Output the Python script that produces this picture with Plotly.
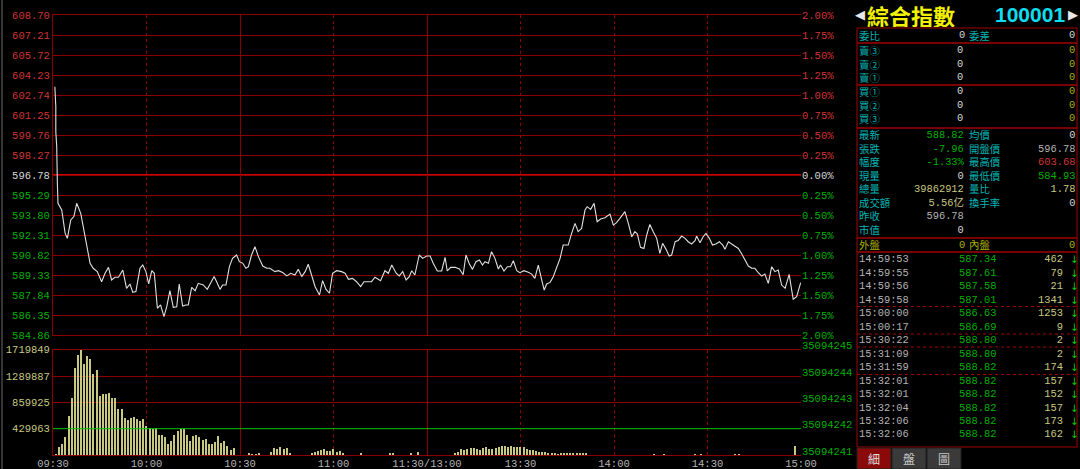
import plotly.graph_objects as go

W, H = 1080, 469

# ---------------- data ----------------
prev_close = 596.78
price_ticks = [608.70, 607.21, 605.72, 604.23, 602.74, 601.25, 599.76, 598.27, 596.78,
               595.29, 593.80, 592.31, 590.82, 589.33, 587.84, 586.35, 584.86]
pct_ticks = [2.00, 1.75, 1.50, 1.25, 1.00, 0.75, 0.50, 0.25, 0.00,
             -0.25, -0.50, -0.75, -1.00, -1.25, -1.50, -1.75, -2.00]
time_ticks = [0, 30, 60, 90, 120, 150, 180, 210, 240]
time_labels = ["09:30", "10:00", "10:30", "11:00", "11:30/13:00", "13:30", "14:00", "14:30", "15:00"]
solid_grid_times = [60, 120]
dashed_grid_times = [30, 90, 150, 180, 210, 240]

price_t = [0.6, 0.9, 0.9, 1.2, 1.4, 1.6, 2.8, 3.9, 4.6, 5.7, 6.7, 7.6, 8.9, 10.3, 11.9, 12.9, 14.2, 15.6,
           16.7, 17.8, 18.8, 19.9, 21.0, 22.4, 23.6, 24.7, 25.6, 26.6, 27.9, 28.8, 29.8, 30.7, 31.7, 32.5,
           33.5, 34.5, 35.6, 36.5, 37.5, 38.6, 39.7, 40.5, 41.6, 42.6, 43.4, 44.5, 45.6, 46.6, 48.2, 49.5,
           50.6, 51.7, 52.5, 53.6, 54.4, 55.5, 56.6, 57.6, 58.9, 59.8, 60.9, 61.9, 62.7, 63.7, 64.8, 65.9,
           67.3, 68.6, 69.6, 71.2, 72.3, 73.7, 75.0, 76.3, 77.6, 78.7, 79.8, 80.9, 81.9, 83.0, 84.1, 85.5,
           86.5, 87.6, 88.7, 89.7, 91.0, 92.6, 93.7, 94.8, 96.1, 97.4, 98.7, 99.8, 101.2, 102.2, 103.3,
           105.1, 106.5, 107.6, 108.7, 110.1, 111.1, 112.2, 113.3, 114.3, 115.1, 116.1, 117.5, 118.6,
           119.9, 121.0, 122.0, 123.3, 124.7, 125.8, 126.5, 127.6, 129.0, 130.4, 131.6, 132.5, 133.6,
           134.6, 135.7, 136.8, 137.8, 138.6, 139.7, 140.7, 141.8, 142.9, 143.6, 144.7, 145.8, 146.8,
           147.7, 148.8, 149.8, 151.1, 152.5, 153.6, 154.6, 155.7, 156.8, 157.6, 158.4, 159.5, 160.5,
           161.6, 162.7, 163.7, 165.3, 166.4, 167.5, 168.5, 169.6, 170.7, 171.4, 172.5, 173.6, 174.6,
           175.7, 177.1, 178.7, 179.8, 180.8, 181.9, 183.5, 184.6, 185.7, 186.7, 187.5, 188.5, 189.6,
           190.5, 191.5, 192.6, 193.7, 194.7, 195.6, 196.7, 197.7, 198.5, 199.6, 200.6, 201.7, 202.8,
           203.8, 204.9, 206.0, 206.5, 207.6, 208.6, 209.5, 210.6, 211.6, 212.7, 213.8, 214.9, 215.6,
           216.7, 217.7, 218.8, 219.9, 221.0, 222.0, 223.1, 224.2, 225.2, 226.3, 227.4, 228.4, 229.5,
           230.6, 231.6, 232.7, 233.8, 234.9, 236.2, 237.5, 238.6, 239.9]
price_v = [603.36, 601.87, 600.00, 598.89, 596.16, 594.67, 594.17, 592.43, 592.06, 593.43, 593.68, 594.67,
           593.92, 592.19, 590.20, 589.83, 589.58, 588.83, 589.46, 589.90, 588.96, 589.16, 589.16, 589.70,
           588.34, 588.66, 588.04, 588.09, 589.83, 590.08, 589.58, 588.66, 589.65, 589.46, 586.85, 587.10,
           586.23, 586.97, 588.16, 586.92, 586.97, 588.66, 587.02, 587.10, 587.10, 588.41, 588.16, 588.71,
           588.59, 588.26, 588.76, 589.21, 588.83, 588.26, 588.59, 588.59, 589.95, 590.57, 590.82, 590.32,
           590.20, 589.83, 589.95, 590.82, 591.44, 590.70, 590.00, 589.83, 589.83, 589.58, 589.65, 589.51,
           589.26, 589.46, 589.33, 589.75, 589.21, 589.58, 590.13, 589.21, 588.46, 587.84, 588.91, 588.26,
           587.97, 589.46, 589.65, 589.58, 589.46, 589.01, 589.08, 588.83, 588.46, 588.83, 588.83, 588.83,
           589.16, 588.91, 589.65, 589.46, 590.08, 589.46, 589.26, 589.58, 588.96, 589.21, 589.65, 589.33,
           590.82, 590.57, 590.75, 590.74, 590.20, 589.63, 589.63, 590.64, 589.63, 589.90, 589.90, 589.78,
           589.35, 590.82, 590.15, 589.75, 590.32, 590.45, 590.07, 590.32, 590.20, 591.07, 590.57, 589.78,
           590.07, 589.63, 589.95, 589.95, 590.40, 589.65, 589.50, 589.65, 589.53, 589.40, 589.08, 590.07,
           588.96, 588.21, 588.66, 588.78, 589.20, 589.83, 590.57, 591.56, 591.56, 592.43, 593.18, 592.56,
           592.80, 594.17, 594.42, 594.22, 594.67, 593.30, 593.50, 593.60, 593.87, 593.05, 593.23, 593.55,
           594.05, 593.18, 592.18, 592.56, 592.38, 591.39, 591.31, 592.31, 593.10, 592.56, 592.06, 590.94,
           591.69, 591.24, 590.74, 590.82, 591.81, 591.89, 592.23, 592.06, 591.81, 591.64, 591.89, 592.23,
           591.74, 592.18, 592.43, 592.06, 591.56, 591.64, 591.81, 591.56, 591.24, 591.81, 591.64, 591.49,
           591.31, 590.89, 590.45, 590.00, 589.83, 589.83, 589.50, 589.25, 589.40, 588.71, 589.95, 589.58,
           589.70, 588.58, 588.34, 589.38, 587.52, 587.71, 588.76]

vol_t = list(range(1, 59)) + [63, 64, 65, 66, 70, 71, 72, 73, 74, 75, 76,
                              83, 84, 85, 86, 87, 88, 89, 90, 91, 92, 93, 99, 108, 109, 115, 117] \
        + list(range(129, 172)) + [193, 196, 206, 208, 219, 220, 238]
vol_v = [22000, 136000, 180000, 294000, 648000, 942000, 1420000, 1644000, 1719849, 1486000,
         1616000, 1578000, 1328000, 1388000, 963000, 996000, 1007000, 1023000, 931000, 931000,
         762000, 762000, 610000, 571000, 615000, 631000, 599000, 555000, 599000, 479000,
         446000, 425000, 452000, 327000, 327000, 299000, 180000, 234000, 337000, 397000,
         435000, 435000, 327000, 234000, 310000, 327000, 294000, 245000, 261000, 190000,
         185000, 218000, 310000, 196000, 234000, 152000, 82000, 125000,
         30000, 27000, 27000, 30000, 54000, 120000, 98000, 136000, 109000, 125000, 44000,
         33000, 54000, 65000, 82000, 98000, 76000, 76000, 98000, 54000, 65000, 38000,
         33000, 44000, 33000, 33000, 49000,
         33000, 54000, 109000, 93000, 98000, 125000, 125000, 109000, 93000, 120000,
         136000, 109000, 109000, 125000, 136000, 152000, 147000, 136000, 152000, 136000,
         136000, 131000, 136000, 109000, 93000, 82000, 65000, 54000, 54000, 54000,
         44000, 44000, 33000, 27000, 33000, 44000, 38000, 44000, 38000, 38000, 33000, 33000, 38000,
         20000, 20000, 20000, 22000, 22000, 22000, 146000]
vol_ticks = [429963, 859925, 1289887, 1719849]
vol_right_ticks = [35094241, 35094242, 35094243, 35094244, 35094245]

# right panel data
title_name = "綜合指數"
title_code = "100001"
ratio_row = ["委比", "0", "委差", "0"]
ask_labels = ["賣③", "賣②", "賣①"]
bid_labels = ["買①", "買②", "買③"]
book_mid = ["0", "0", "0"]
book_right = ["0", "0", "0"]
stat_left_labels = ["最新", "張跌", "幅度", "現量", "總量", "成交額", "昨收", "市值"]
stat_left_values = ["588.82", "-7.96", "-1.33%", "0", "39862912", "5.56亿", "596.78", "0"]
stat_right_labels = ["均價", "開盤價", "最高價", "最低價", "量比", "換手率"]
stat_right_values = ["0", "596.78", "603.68", "584.93", "1.78", "0"]
outer_inner_row = ["外盤", "0", "內盤", "0"]
tick_times = ["14:59:53", "14:59:55", "14:59:56", "14:59:58", "15:00:00", "15:00:17", "15:30:22",
              "15:31:09", "15:31:59", "15:32:01", "15:32:01", "15:32:04", "15:32:06", "15:32:06"]
tick_prices = ["587.34", "587.61", "587.58", "587.01", "586.63", "586.69", "588.80",
               "588.80", "588.82", "588.82", "588.82", "588.82", "588.82", "588.82"]
tick_vols = [462, 79, 21, 1341, 1253, 9, 2, 2, 174, 157, 152, 157, 173, 162]
tab_labels = ["細", "盤", "圖"]

# ---------------- style ----------------
BG = "#000000"
GRID = "#8c0000"
MID = "#d00000"
RED = "#d03434"
GREEN = "#00b000"
WHITE = "#d8d8d8"
GRAY = "#b4b4b4"
KHAKI = "#c8c880"
CYAN = "#00b4b4"
OLIVE = "#b0b000"
NUM = "Liberation Mono, DejaVu Sans Mono, monospace"
CJK = "Noto Sans CJK TC, Noto Sans CJK SC, sans-serif"
BOX = "#a00000"
ROW = 13.5            # panel row pitch in px
PSIZE = ROW / 1.3     # font size whose line spacing equals ROW


def fy(y):
    return 1 - y / H


def fx(x):
    return x / W


def span(text, color):
    return f'<span style="color:{color}">{text}</span>'


price_text = [span(f"{v:.2f}", RED if v > prev_close + 1e-6 else (GREEN if v < prev_close - 1e-6 else WHITE))
              for v in price_ticks]
pct_text = [span(f"{abs(v):.2f}%", RED if v > 0 else (GREEN if v < 0 else WHITE)) for v in pct_ticks]

fig = go.Figure()
fig.add_trace(go.Scatter(x=price_t, y=price_v, xaxis="x", yaxis="y", mode="lines",
                         line=dict(color="#e0e0e0", width=1.1), hoverinfo="skip"))
fig.add_trace(go.Bar(x=vol_t, y=vol_v, xaxis="x2", yaxis="y3", width=0.36,
                     marker=dict(color=KHAKI, line=dict(width=0)), hoverinfo="skip"))
# empty helper traces so the overlaying label axes are drawn
fig.add_trace(go.Scatter(x=[], y=[], xaxis="x3", yaxis="y3", hoverinfo="skip"))
fig.add_trace(go.Scatter(x=[], y=[], xaxis="x2", yaxis="y4", hoverinfo="skip"))
fig.add_trace(go.Scatter(x=[], y=[], xaxis="x", yaxis="y2", hoverinfo="skip"))

xdom = [fx(53), fx(801)]
grid_x = dict(range=[0, 240], domain=xdom, tickmode="array", tickvals=solid_grid_times,
              showticklabels=False, ticks="", showgrid=True, gridcolor=GRID, gridwidth=1,
              zeroline=False, showline=True, mirror=True, linecolor=GRID, linewidth=1,
              automargin=False,
              minor=dict(tickmode="array", tickvals=dashed_grid_times, showgrid=True,
                         gridcolor=GRID, griddash="3px,3px", gridwidth=1, ticks=""))

fig.update_layout(
    width=W, height=H, margin=dict(l=0, r=0, t=0, b=0, pad=0), autosize=False,
    paper_bgcolor=BG, plot_bgcolor=BG, showlegend=False, hovermode=False,
    bargap=0,
    xaxis=dict(grid_x, anchor="y"),
    xaxis2=dict(grid_x, anchor="y3"),
    xaxis3=dict(range=[0, 240], overlaying="x2", anchor="y3", side="bottom", tickmode="array",
                tickvals=time_ticks, ticktext=time_labels, showgrid=False, zeroline=False, ticks="",
                showline=False, automargin=False, tickfont=dict(family=NUM, size=10.5, color=GRAY)),
    yaxis=dict(domain=[fy(335), fy(15)], range=[584.86, 608.70], anchor="x", tickmode="array",
               tickvals=price_ticks, ticktext=price_text, showgrid=True, gridcolor=GRID, gridwidth=1,
               zeroline=False, ticks="", showline=True, linecolor=GRID, automargin=False,
               tickfont=dict(family=NUM, size=10.5)),
    yaxis2=dict(range=[-2, 2], overlaying="y", side="right", anchor="x", tickmode="array",
                tickvals=pct_ticks, ticktext=pct_text, showgrid=False, zeroline=False,
                ticks="", showline=False, automargin=False, tickfont=dict(family=NUM, size=10.5)),
    yaxis3=dict(domain=[fy(455), fy(349.7)], range=[0, 1719849], anchor="x2", tickmode="array",
                tickvals=vol_ticks, ticktext=[str(v) for v in vol_ticks], showgrid=False,
                zeroline=False, ticks="", showline=True, linecolor=GRID, automargin=False,
                tickfont=dict(family=NUM, size=10.5, color=KHAKI),
                minor=dict(tickmode="array", tickvals=vol_ticks[1:], showgrid=True,
                           gridcolor=GRID, gridwidth=1, ticks="")),
    yaxis4=dict(range=[vol_right_ticks[0], vol_right_ticks[-1]], overlaying="y3", side="right",
                anchor="x2", tickmode="array", tickvals=vol_right_ticks,
                ticktext=[str(v) for v in vol_right_ticks], showgrid=False, zeroline=False,
                ticks="", showline=False, automargin=False, ticklabelshift=-4,
                tickfont=dict(family=NUM, size=10.5, color=GREEN)),
)

annotations = []
shapes = []

# reference lines: previous close and average-volume level
shapes.append(dict(type="line", xref="x domain", yref="y", x0=0, x1=1, y0=prev_close, y1=prev_close,
                   line=dict(color=MID, width=2), layer="below"))
shapes.append(dict(type="line", xref="x2 domain", yref="y3", x0=0, x1=1, y0=vol_ticks[0], y1=vol_ticks[0],
                   line=dict(color="#00c000", width=1), layer="above"))


def txt(x, y, s, color, size=11, anchor="left", family=NUM, bold=False, height=None):
    a = dict(x=fx(x), y=fy(y), xref="paper", yref="paper",
             text=f"<b>{s}</b>" if bold else s, showarrow=False,
             xanchor=anchor, yanchor="middle", borderpad=0, borderwidth=0,
             font=dict(color=color, size=size, family=family))
    if height:
        a["height"] = height
        a["valign"] = "middle"
    annotations.append(a)


def col(x, y_first, items, colors, anchor="left", family=NUM, size=PSIZE):
    """one multi-line annotation holding a whole column of panel rows"""
    if isinstance(colors, str):
        colors = [colors] * len(items)
    body = "<br>".join(span(s, c) for s, c in zip(items, colors))
    y_mid = y_first + (len(items) - 1) * ROW / 2
    annotations.append(dict(x=fx(x), y=fy(y_mid), xref="paper", yref="paper", text=body,
                            showarrow=False, xanchor=anchor, yanchor="middle", align=anchor,
                            borderpad=0, borderwidth=0, font=dict(size=size, family=family)))


def rect(x0, y0, x1, y1, line=BOX, fill=None, dash="solid"):
    shapes.append(dict(type="rect", xref="paper", yref="paper", x0=fx(x0), x1=fx(x1),
                       y0=fy(y1), y1=fy(y0), line=dict(color=line, width=1, dash=dash),
                       fillcolor=fill, layer="below"))


def hline(x0, x1, y, color=BOX, dash="solid"):
    shapes.append(dict(type="line", xref="paper", yref="paper", x0=fx(x0), x1=fx(x1),
                       y0=fy(y), y1=fy(y), line=dict(color=color, width=1, dash=dash)))


# outer left frame
shapes.append(dict(type="line", xref="paper", yref="paper", x0=fx(2), x1=fx(2), y0=0, y1=1,
                   line=dict(color="#6a6a6a", width=1)))

# title
txt(855, 14.5, "◀", "#e8e8e8", size=13, family="DejaVu Sans")
txt(867, 14.5, title_name, "#f0f000", size=22, family=CJK, bold=True, height=25)
txt(1065, 14.5, title_code, "#10dcf0", size=21, anchor="right", family="Liberation Sans, Arial",
    bold=True, height=24)
txt(1068, 14.5, "▶", "#e8e8e8", size=13, family="DejaVu Sans")

L, R = 857, 1077
C0, C1, C2, C3 = 859, 965, 969, 1075

# box: 委比
rect(L, 28, R, 43)
col(C0, 35.5, [ratio_row[0]], CYAN, family=CJK)
col(C1, 35.5, [ratio_row[1]], WHITE, anchor="right")
col(C2, 35.5, [ratio_row[2]], CYAN, family=CJK)
col(C3, 35.5, [ratio_row[3]], WHITE, anchor="right")

# order book boxes
rect(L, 43, R, 85)
rect(L, 85, R, 128)
for y0, labs in [(50, ask_labels), (91, bid_labels)]:
    col(C0, y0, labs, CYAN, family=CJK)
    col(963, y0, book_mid, WHITE, anchor="right")
    col(C3, y0, book_right, OLIVE, anchor="right")

# stats box
rect(L, 128, R, 238)
left_colors = [GREEN, GREEN, GREEN, WHITE, KHAKI, KHAKI, GRAY, WHITE]
right_colors = [WHITE, GRAY, RED, GREEN, KHAKI, WHITE]
left_vals = [v[:-1] + f'<span style="font-family:{CJK}">亿</span>' if v.endswith("亿") else v
             for v in stat_left_values]
col(C0, 135, stat_left_labels, CYAN, family=CJK)
col(C1, 135, left_vals, left_colors, anchor="right")
col(C2, 135, stat_right_labels, CYAN, family=CJK)
col(C3, 135, stat_right_values, right_colors, anchor="right")

# outer / inner
rect(L, 238, R, 252)
col(C0, 245, [outer_inner_row[0]], OLIVE, family=CJK)
col(C1, 245, [outer_inner_row[1]], OLIVE, anchor="right")
col(C2, 245, [outer_inner_row[2]], OLIVE, family=CJK)
col(C3, 245, [outer_inner_row[3]], OLIVE, anchor="right")

# tick list
rect(L, 252, R, 447)
col(C0, 259, tick_times, GRAY)
col(996, 259, tick_prices, GREEN, anchor="right")
col(1063, 259, [str(v) for v in tick_vols], KHAKI, anchor="right")
col(1070, 259, ["↓"] * len(tick_vols), "#00d000", family="DejaVu Sans")
for yy in [306.5, 334, 347, 374.5]:
    hline(L, R, yy, color=BOX, dash="dot")

# tabs
tab_x = [(857, 891), (892, 926), (927, 961)]
for j, ((a, b), lab) in enumerate(zip(tab_x, tab_labels)):
    rect(a, 448, b, 469, line="#202020", fill="#8a0a0a" if j == 0 else "#3a3a3a")
    txt((a + b) / 2, 458.5, lab, "#e0e0e0" if j == 0 else "#c8c8c8", anchor="center", family=CJK, size=12)

fig.update_layout(annotations=annotations, shapes=shapes)
fig.write_html("out.html", config={"displayModeBar": False},
               post_script="document.body.style.margin='0';document.body.style.overflow='hidden';")
